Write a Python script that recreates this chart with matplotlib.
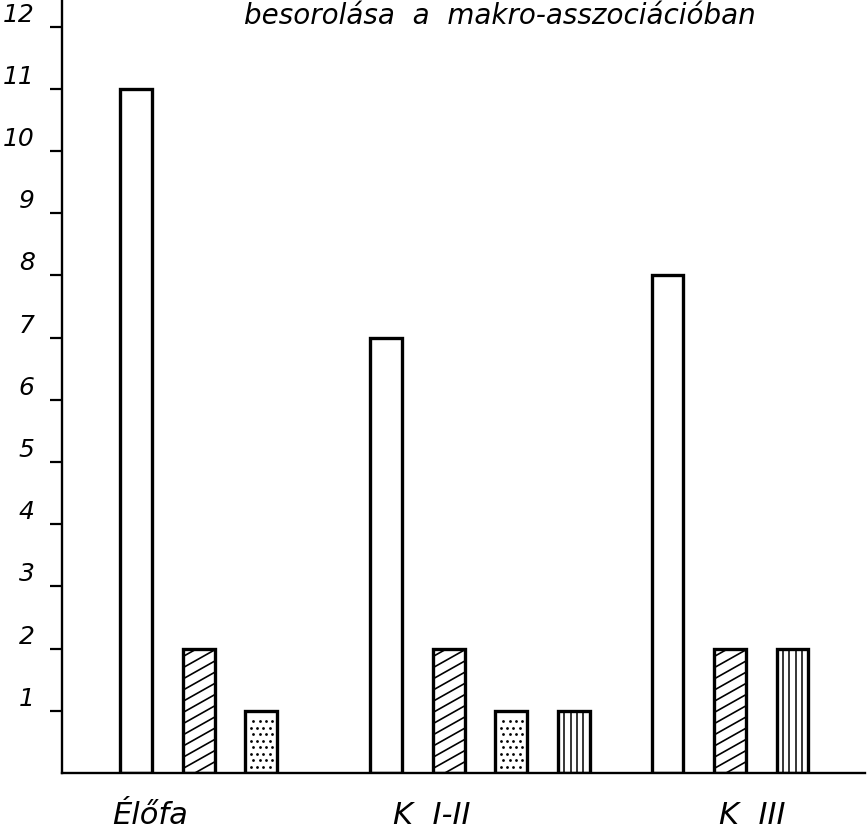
import matplotlib.pyplot as plt
import numpy as np

# data
groups = ['Élőfa', 'K  I-II', 'K  III']
open_vals = [11, 7, 8]          # white bars
hatched_vals = [2, 2, 2]        # diagonal hatching
dotted_vals = [1, 1, None]      # dotted fill
striped_vals = [None, 1, 2]     # vertical lines
series = [open_vals, hatched_vals, dotted_vals, striped_vals]
styles = ['open', 'diag', 'dots', 'vert']
title_text = 'besorolása  a  makro-asszociációban'
yticks = list(range(1, 13))

# layout
group_start = [0, 4, 8.5]
label_x = [0.22, 4.73, 9.85]
bar_w = 0.51
lw = 2.4

fig = plt.figure(figsize=(8.68, 8.4), dpi=100)
ax = fig.add_axes([62 / 868, 67 / 840, (865 - 62) / 868, 773 / 840])
ax.set_xlim(-1.19, 11.66)
ax.set_ylim(0, 773 / 62.2)


def decorate(bar, style):
    x0 = bar.get_x()
    w = bar.get_width()
    h = bar.get_height()
    if style == 'diag':
        slope = 0.565
        for y0 in np.arange(-slope * w, h, 0.18):
            ln, = ax.plot([x0, x0 + w], [y0, y0 + slope * w], color='black',
                          lw=1.2, zorder=2.5)
            ln.set_clip_path(bar)
    elif style == 'vert':
        for k in range(1, 5):
            ln, = ax.plot([x0 + w * k / 5] * 2, [0, h], color='black', lw=1.1,
                          zorder=2.5)
            ln.set_clip_path(bar)
    elif style == 'dots':
        rows = np.arange(0.1, h - 0.08, 0.105)
        for i, yy in enumerate(rows):
            off = 0.0 if i % 2 == 0 else w / 12
            xs = x0 + w / 6 + off + np.arange(4) * w / 5
            ln, = ax.plot(xs, [yy] * len(xs), ls='none', marker='o', ms=2.0,
                          mew=0, color='black', zorder=2.5)
            ln.set_clip_path(bar)


for g, start in enumerate(group_start):
    slot = 0
    for vals, style in zip(series, styles):
        v = vals[g]
        if v is None:
            continue
        # white fill underneath, outline on top of the pattern
        ax.bar(start + slot, v, width=bar_w, facecolor='white',
               edgecolor='none', zorder=2)
        bars = ax.bar(start + slot, v, width=bar_w, facecolor='none',
                      edgecolor='black', linewidth=lw, zorder=3)
        decorate(bars[0], style)
        slot += 1

for sp in ['top', 'right']:
    ax.spines[sp].set_visible(False)
ax.spines['left'].set_linewidth(1.7)
ax.spines['bottom'].set_linewidth(1.7)

ax.set_xticks([])
ax.set_yticks(yticks)
ax.set_yticklabels([str(t) for t in yticks], fontsize=18, style='italic')
for t in ax.get_yticklabels():
    t.set_verticalalignment('bottom')
ax.tick_params(axis='y', length=8.6, width=1.6, pad=11)

for x, name in zip(label_x, groups):
    ax.text(x, -0.055, name, transform=ax.get_xaxis_transform(), ha='center',
            va='center', fontsize=22, style='italic')

fig.text(500 / 868, 1 - 16 / 840, title_text, ha='center', va='center',
         fontsize=20, style='italic')

plt.savefig('out.png', dpi=100)
